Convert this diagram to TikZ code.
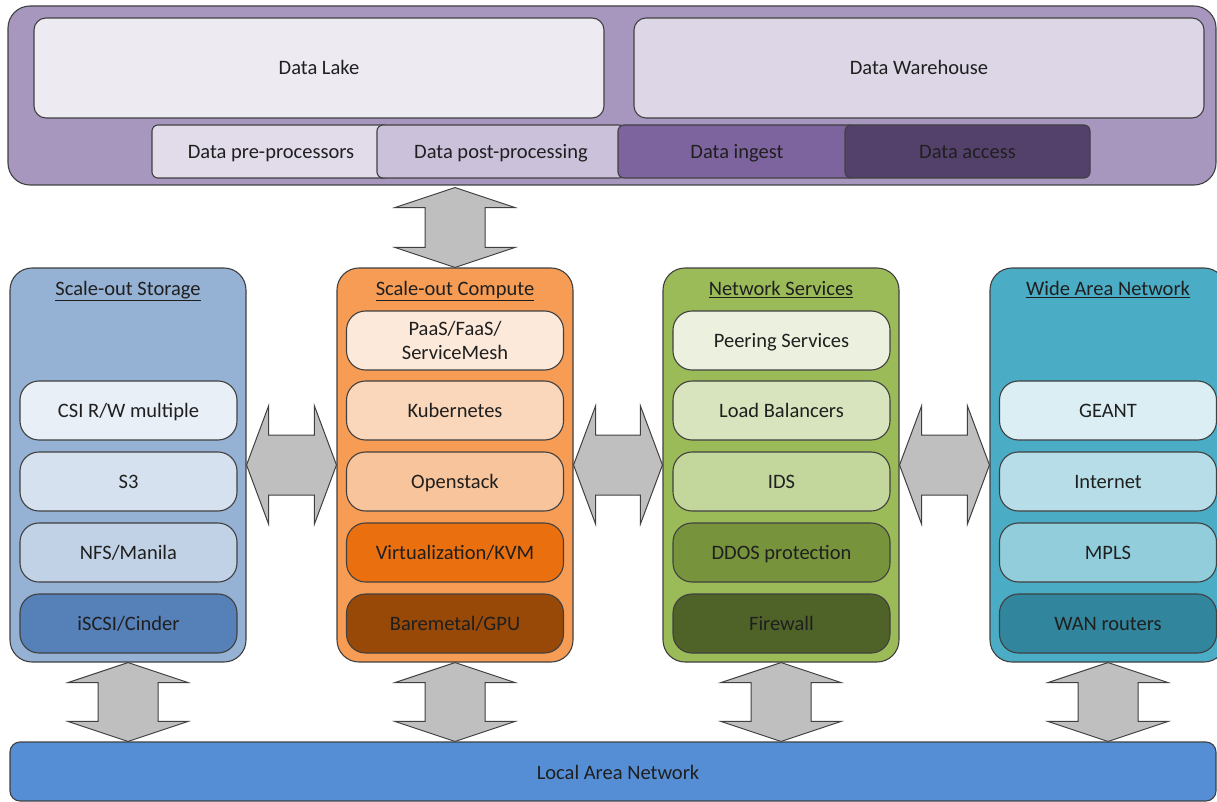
\documentclass[tikz,border=0pt]{standalone}
\usepackage{fontspec}
\setmainfont{Carlito}
\usetikzlibrary{calc}
\definecolor{bordc}{HTML}{404040}
\definecolor{txtc}{HTML}{1F1F1F}
\definecolor{arrc}{HTML}{BFBFBF}
\definecolor{topc}{HTML}{A797BF}
\definecolor{dlake}{HTML}{EDEAF2}
\definecolor{dwh}{HTML}{DCD6E6}
\definecolor{prec}{HTML}{E1DBEA}
\definecolor{postc}{HTML}{CBC1DB}
\definecolor{ingc}{HTML}{7E649E}
\definecolor{accc}{HTML}{54416B}
\definecolor{storc}{HTML}{95B1D4}
\definecolor{csic}{HTML}{E9EFF7}
\definecolor{sthree}{HTML}{D6E1EF}
\definecolor{nfsc}{HTML}{C1D2E7}
\definecolor{iscsic}{HTML}{5681B8}
\definecolor{compc}{HTML}{F69C55}
\definecolor{paasc}{HTML}{FDE9DA}
\definecolor{kubec}{HTML}{FAD6BA}
\definecolor{openc}{HTML}{F8C49C}
\definecolor{virtc}{HTML}{E96F0F}
\definecolor{barec}{HTML}{984807}
\definecolor{netc}{HTML}{9BBB59}
\definecolor{peerc}{HTML}{EBF1DE}
\definecolor{loadc}{HTML}{D7E4BD}
\definecolor{idsc}{HTML}{C3D69B}
\definecolor{ddosc}{HTML}{77933C}
\definecolor{firec}{HTML}{4F6228}
\definecolor{wanc}{HTML}{4BACC6}
\definecolor{geantc}{HTML}{DBEEF4}
\definecolor{inetc}{HTML}{B7DEE8}
\definecolor{mplsc}{HTML}{92CDDC}
\definecolor{wanrc}{HTML}{31859C}
\definecolor{lanc}{HTML}{558ED5}
\newcommand\myharrow[2]{%
  \draw[arr] (#1.east) -- ++(22,-59) -- ++(0,29) -- ($(#2.west)+(-22,-30)$) -- ++(0,-29) -- (#2.west)
    -- ++(-22,59) -- ++(0,-29) -- ($(#1.east)+(22,30)$) -- ++(0,29) -- cycle;}
\newcommand\myvarrow[2]{%
  \draw[arr] (#1) -- ++(60,20) -- ++(-30,0) -- ($(#2)+(30,-20)$) -- ++(30,0) -- (#2)
    -- ++(-60,-20) -- ++(30,0) -- ($(#1)+(-30,20)$) -- ++(-30,0) -- cycle;}
\begin{document}
\begin{tikzpicture}[x=1pt,y=-1pt,
  box/.style={draw=bordc, line width=1.1pt, text=txtc, font=\fontsize{20.5}{24}\selectfont, align=center, inner sep=0pt},
  fix/.style={text height=15.5pt, text depth=2.3pt},
  col/.style={box, rounded corners=22pt, minimum width=236pt, minimum height=394pt},
  itembase/.style={box, rounded corners=19pt, minimum width=217pt, minimum height=59pt},
  item/.style={itembase, fix},
  row/.style={box, fix, rounded corners=6pt, minimum height=53pt},
  ttl/.style={fix, text=txtc, font=\fontsize{20.5}{24}\selectfont, inner sep=0pt},
  arr/.style={fill=arrc, draw=bordc, line width=1pt, line join=miter}]
\useasboundingbox (0,0) rectangle (1217,802);
\clip (0,0) rectangle (1217,802);
% top block
\node[box, fill=topc, rounded corners=22pt, minimum width=1208pt, minimum height=179pt] (top) at (612,95.5) {};
\node[box, fix, fill=dlake, rounded corners=12pt, minimum width=570pt, minimum height=100pt] (lake) at (319,68) {Data Lake};
\node[box, fix, fill=dwh, rounded corners=12pt, minimum width=570pt, minimum height=100pt] (wh) at (919,68) {Data Warehouse};
\node[row, fill=prec, minimum width=238pt] (pre) at (271,151.5) {Data pre-processors};
\node[row, fill=postc, minimum width=248pt] (post) at (501,151.5) {Data post-processing};
\node[row, fill=ingc, minimum width=238pt] (ing) at (737,151.5) {Data ingest};
\node[row, fill=accc, minimum width=245pt] (acc) at (967.5,151.5) {Data access};
% columns
\node[col, fill=storc] (stor) at (128,465) {};
\node[col, fill=compc] (comp) at (455,465) {};
\node[col, fill=netc] (net) at (781,465) {};
\node[col, fill=wanc] (wan) at (1108,465) {};
\node[ttl] (tstor) at (128,289) {\underline{Scale-out Storage}};
\node[ttl] (tcomp) at (455,289) {\underline{Scale-out Compute}};
\node[ttl] (tnet) at (781,289) {\underline{Network Services}};
\node[ttl] (twan) at (1108,289) {\underline{Wide Area Network}};
% storage items
\node[item, fill=csic] (csi) at (128.5,410.5) {CSI R/W multiple};
\node[item, fill=sthree] (s3) at (128.5,481.5) {S3};
\node[item, fill=nfsc] (nfs) at (128.5,552.5) {NFS/Manila};
\node[item, fill=iscsic] (iscsi) at (128.5,623.5) {iSCSI/Cinder};
% compute items
\node[itembase, fill=paasc] (paas) at (455,340.5) {PaaS/FaaS/\\ServiceMesh};
\node[item, fill=kubec] (kube) at (455,410.5) {Kubernetes};
\node[item, fill=openc] (open) at (455,481.5) {Openstack};
\node[item, fill=virtc] (virt) at (455,552.5) {Virtualization/KVM};
\node[item, fill=barec] (bare) at (455,623.5) {Baremetal/GPU};
% network items
\node[item, fill=peerc] (peer) at (781.5,340.5) {Peering Services};
\node[item, fill=loadc] (load) at (781.5,410.5) {Load Balancers};
\node[item, fill=idsc] (ids) at (781.5,481.5) {IDS};
\node[item, fill=ddosc] (ddos) at (781.5,552.5) {DDOS protection};
\node[item, fill=firec] (fire) at (781.5,623.5) {Firewall};
% wan items
\node[item, fill=geantc] (geant) at (1108,410.5) {GEANT};
\node[item, fill=inetc] (inet) at (1108,481.5) {Internet};
\node[item, fill=mplsc] (mpls) at (1108,552.5) {MPLS};
\node[item, fill=wanrc] (wanr) at (1108,623.5) {WAN routers};
% LAN
\node[box, fill=lanc, rounded corners=10pt, minimum width=1206pt, minimum height=59pt] (lan) at (613,771.5) {};
\node[ttl] (tlan) at (618,773) {Local Area Network};
% horizontal arrows
\myharrow{stor}{comp}
\myharrow{comp}{net}
\myharrow{net}{wan}
% vertical arrows
\coordinate (ta) at ($(comp.north |- top.south)+(0,2)$);
\myvarrow{ta}{comp.north}
\coordinate (b1) at (stor.south |- lan.north);
\coordinate (b2) at (comp.south |- lan.north);
\coordinate (b3) at (net.south |- lan.north);
\coordinate (b4) at (wan.south |- lan.north);
\myvarrow{stor.south}{b1}
\myvarrow{comp.south}{b2}
\myvarrow{net.south}{b3}
\myvarrow{wan.south}{b4}
\end{tikzpicture}
\end{document}
